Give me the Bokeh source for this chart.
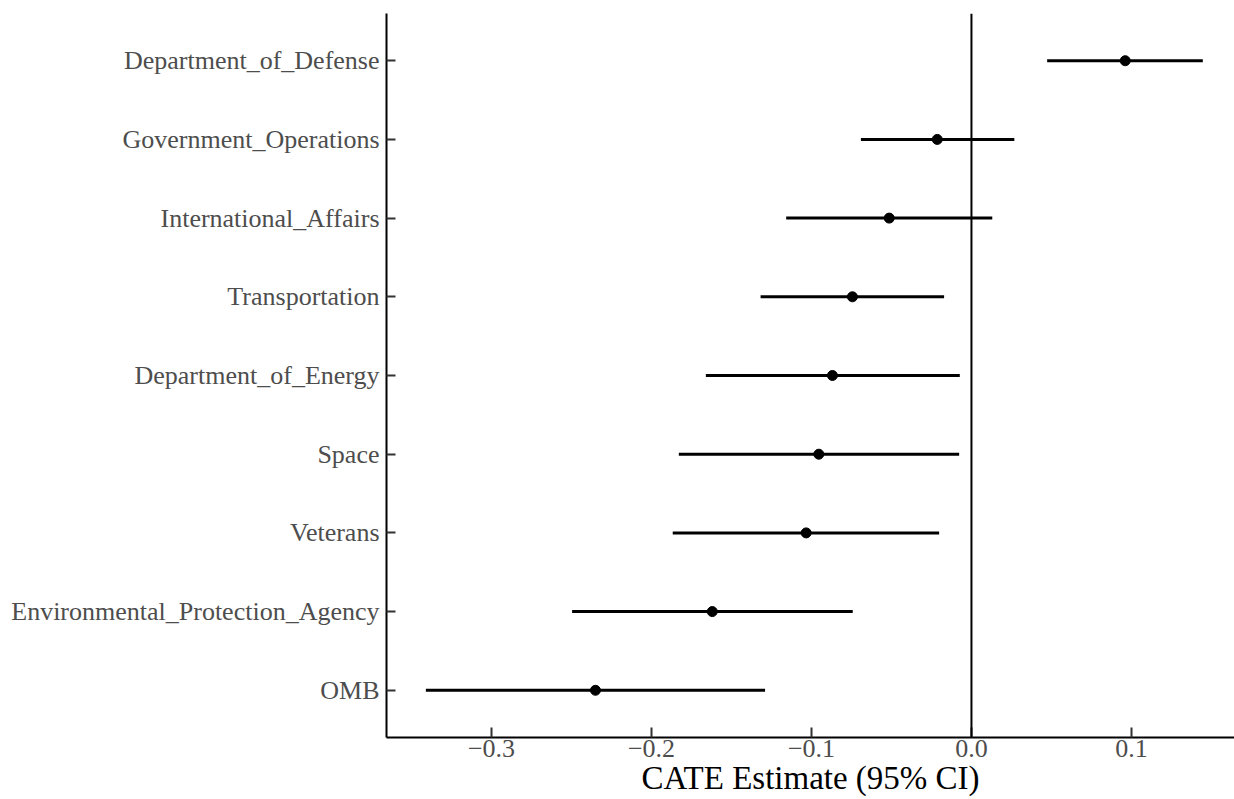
from bokeh.plotting import figure
from bokeh.models import ColumnDataSource, Span, FixedTicker, CustomJSTickFormatter, Range1d
from bokeh.embed import file_html
from bokeh.resources import INLINE

categories = ["Department_of_Defense", "Government_Operations", "International_Affairs",
              "Transportation", "Department_of_Energy", "Space", "Veterans",
              "Environmental_Protection_Agency", "OMB"]
estimate = [0.0961, -0.0214, -0.0514, -0.0744, -0.0869, -0.0954, -0.1033, -0.162, -0.235]
lower = [0.0473, -0.0691, -0.1158, -0.1318, -0.166, -0.1829, -0.1867, -0.2496, -0.341]
upper = [0.1446, 0.0268, 0.013, -0.0171, -0.0073, -0.0077, -0.0202, -0.0742, -0.129]
x_ticks = [-0.3, -0.2, -0.1, 0.0, 0.1]
x_title = "CATE Estimate (95% CI)"

n = len(categories)
ypos = [n - i for i in range(n)]
src = ColumnDataSource(dict(cat=categories, est=estimate, lo=lower, hi=upper, y=ypos))

FONT = "Liberation Serif"

p = figure(width=1234, height=799, output_backend="svg", toolbar_location=None,
           x_range=Range1d(-0.3656, 0.1644), y_range=Range1d(0.4, n + 0.6),
           min_border_left=386, min_border_top=13, min_border_right=0, min_border_bottom=62)
p.outline_line_color = None
p.xgrid.visible = False
p.ygrid.visible = False
p.background_fill_color = "white"
p.border_fill_color = "white"

p.add_layout(Span(location=0, dimension="height", line_color="black", line_width=2))
p.segment(x0="lo", x1="hi", y0="y", y1="y", source=src, line_color="black", line_width=3)
p.scatter(x="est", y="y", source=src, size=10, fill_color="black", line_color="black")

# y axis
yax = p.yaxis[0]
yax.ticker = FixedTicker(ticks=ypos)
yax.major_label_overrides = {y: c for y, c in zip(ypos, categories)}
yax.minor_tick_line_color = None
yax.major_tick_in = 9
yax.major_tick_out = 0
yax.major_tick_line_color = "#333333"
yax.major_tick_line_width = 2
yax.axis_line_color = "black"
yax.axis_line_width = 2
yax.major_label_text_font = FONT
yax.major_label_text_font_size = "26px"
yax.major_label_text_color = "#4D4D4D"
yax.major_label_standoff = 7

# x axis
xax = p.xaxis[0]
xax.ticker = FixedTicker(ticks=x_ticks)
xax.formatter = CustomJSTickFormatter(code="return tick.toFixed(1).replace('-', '\u2212');")
xax.minor_tick_line_color = None
xax.major_tick_in = 10
xax.major_tick_out = 0
xax.major_tick_line_color = "#333333"
xax.major_tick_line_width = 2
xax.axis_line_color = "black"
xax.axis_line_width = 2
xax.major_label_text_font = FONT
xax.major_label_text_font_size = "26px"
xax.major_label_text_color = "#4D4D4D"
xax.major_label_standoff = 2
xax.axis_label = x_title
xax.axis_label_text_font = FONT
xax.axis_label_text_font_size = "33px"
xax.axis_label_text_font_style = "normal"
xax.axis_label_text_color = "black"
xax.axis_label_standoff = 0

open("out.html", "w").write(file_html(p, INLINE))
